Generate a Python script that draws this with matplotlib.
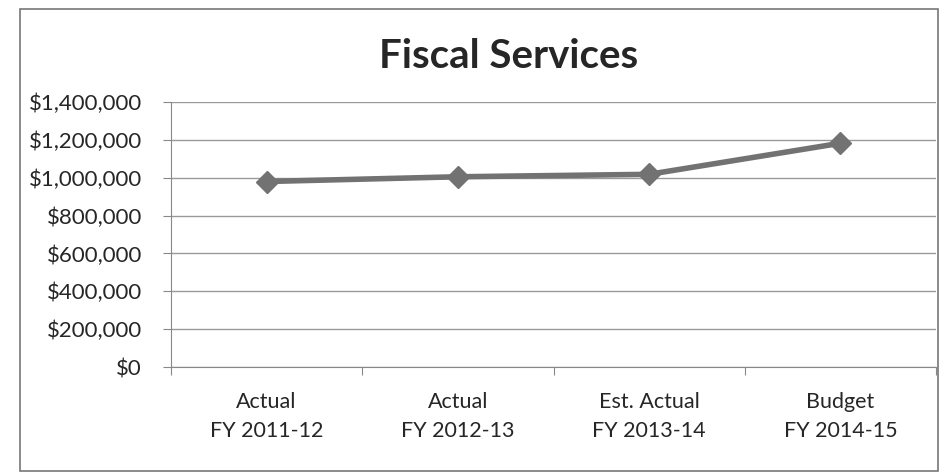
import matplotlib.pyplot as plt
import matplotlib.ticker as ticker
from matplotlib.patches import Rectangle

categories = ["Actual\nFY 2011-12", "Actual\nFY 2012-13", "Est. Actual\nFY 2013-14", "Budget\nFY 2014-15"]
values = [980000, 1005000, 1018000, 1182000]
y_ticks = [0, 200000, 400000, 600000, 800000, 1000000, 1200000, 1400000]

plt.rcParams["font.family"] = ["Lato", "DejaVu Sans"]

fig = plt.figure(figsize=(9.44, 4.74), dpi=100)
ax = fig.add_axes([171 / 944, 1 - 367 / 474, (936 - 171) / 944, (367 - 102) / 474])

x = range(len(values))
ax.plot(x, values, color="#727272", lw=4, marker="D", ms=11,
        markerfacecolor="#727272", markeredgecolor="#727272", solid_capstyle="round")

ax.set_xlim(-0.5, len(values) - 0.5)
ax.set_ylim(0, 1400000)
ax.set_yticks(y_ticks)
ax.yaxis.set_major_formatter(ticker.FuncFormatter(lambda v, _: f"${v:,.0f}"))
ax.set_xticks([i + 0.5 for i in range(-1, len(values))])
ax.set_xticklabels([])
ax.set_xticks(list(x), minor=True)
ax.set_xticklabels(categories, minor=True, fontsize=15.5, color="#262626", linespacing=1.55)
ax.tick_params(axis="x", which="minor", length=0, pad=18)
ax.tick_params(axis="x", which="major", length=6, direction="out", color="#888888")
ax.tick_params(axis="y", length=6, direction="out", color="#888888",
               labelsize=16, labelcolor="#262626", pad=15)

ax.grid(axis="y", color="#9a9a9a", lw=1)
ax.set_axisbelow(True)
for side in ["top", "right"]:
    ax.spines[side].set_visible(False)
ax.spines["left"].set_color("#888888")
ax.spines["bottom"].set_color("#888888")

fig.text(509 / 944, 1 - 57 / 474, "Fiscal Services", ha="center", va="center",
         fontsize=29, fontweight="bold", color="#262626")

fig.patches.append(Rectangle((20 / 944, 1 - 471 / 474), (938 - 20) / 944, (471 - 9) / 474,
                             transform=fig.transFigure, fill=False,
                             edgecolor="#777777", lw=1.2))

fig.savefig("out.png", dpi=100)
